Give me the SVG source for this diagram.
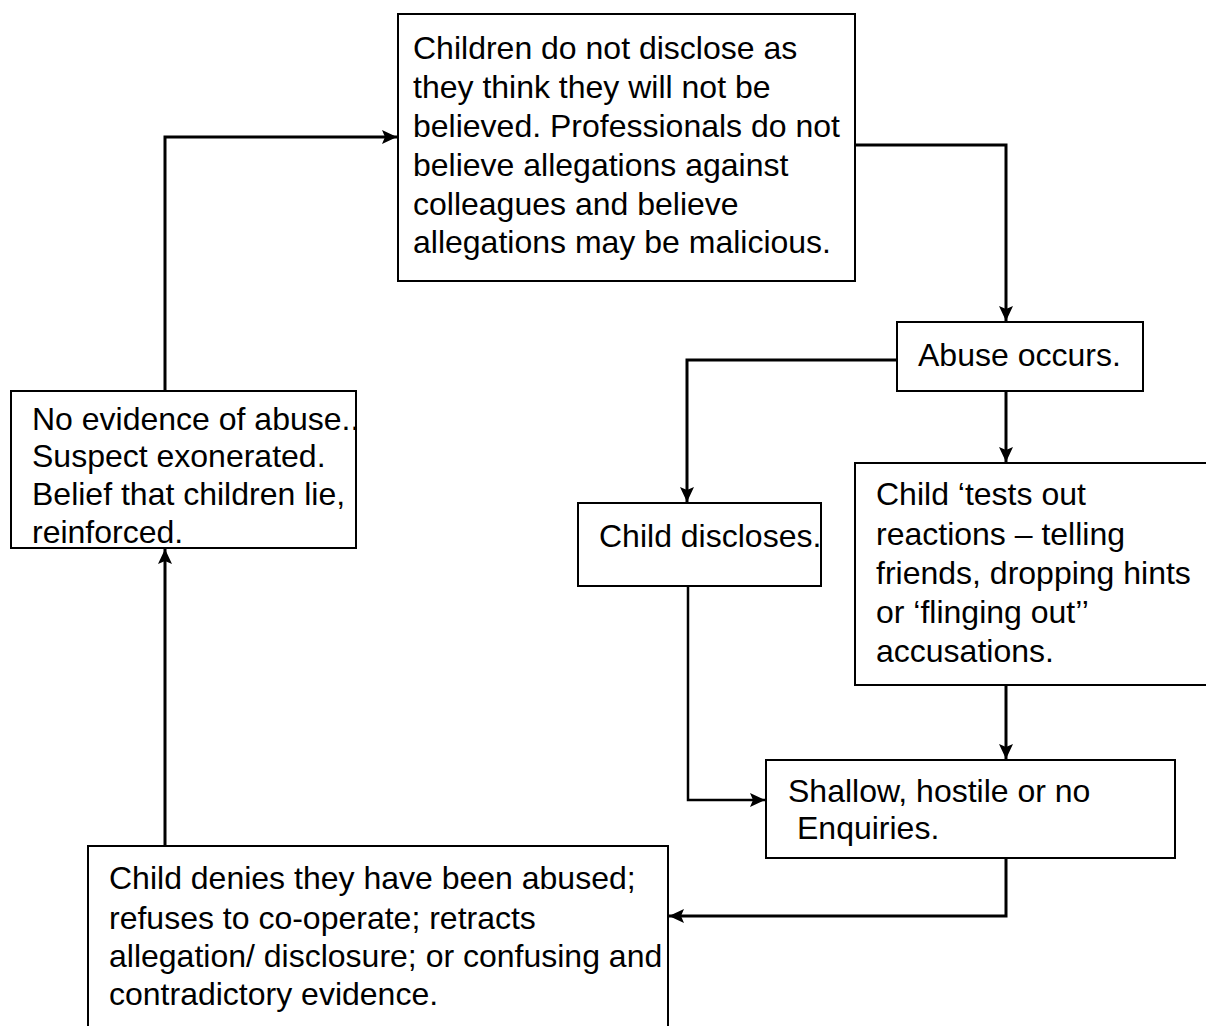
<svg xmlns="http://www.w3.org/2000/svg" width="1206" height="1026" viewBox="0 0 1206 1026">
<style>
.box{fill:#fff;stroke:#000;stroke-width:2}
.t{font-family:"Liberation Sans",Arial,sans-serif;font-size:32px;fill:#000}
.c{fill:none;stroke:#000;stroke-width:3}
</style>
<defs>
<marker id="ah" markerUnits="userSpaceOnUse" markerWidth="16" markerHeight="14" refX="15" refY="7" orient="auto">
<path d="M0,0 L15,7 L0,14 L3,7 z" fill="#000"/>
</marker>
</defs>
<rect width="1206" height="1026" fill="#fff"/>
<g id="connectors">
<path class="c" d="M855,145 H1006 V321" marker-end="url(#ah)"/>
<path class="c" d="M897,360 H687 V502" marker-end="url(#ah)"/>
<path class="c" d="M1006,392 V462" marker-end="url(#ah)"/>
<path class="c" d="M1006,685 V759" marker-end="url(#ah)"/>
<path class="c" d="M688,586 V800 H765" marker-end="url(#ah)" style="stroke-width:2.5"/>
<path class="c" d="M1006,858 V916 H669" marker-end="url(#ah)"/>
<path class="c" d="M165,846 V549" marker-end="url(#ah)"/>
<path class="c" d="M165,391 V137 H397" marker-end="url(#ah)"/>
</g>
<g id="n-top">
<rect class="box" x="398" y="14" width="457" height="267"/>
<text class="t" x="413" y="59">Children do not disclose as</text>
<text class="t" x="413" y="98">they think they will not be</text>
<text class="t" x="413" y="137">believed. Professionals do not</text>
<text class="t" x="413" y="176">believe allegations against</text>
<text class="t" x="413" y="215">colleagues and believe</text>
<text class="t" x="413" y="253">allegations may be malicious.</text>
</g>
<g id="n-abuse">
<rect class="box" x="897" y="322" width="246" height="69"/>
<text class="t" x="918" y="366">Abuse occurs.</text>
</g>
<g id="n-discloses">
<rect class="box" x="578" y="503" width="243" height="83"/>
<text class="t" x="599" y="547">Child discloses.</text>
</g>
<g id="n-tests">
<rect class="box" x="855" y="463" width="360" height="222"/>
<text class="t" x="876" y="505">Child ‘tests out</text>
<text class="t" x="876" y="545">reactions – telling</text>
<text class="t" x="876" y="584">friends, dropping hints</text>
<text class="t" x="876" y="623">or ‘flinging out’’</text>
<text class="t" x="876" y="662">accusations.</text>
</g>
<g id="n-shallow">
<rect class="box" x="766" y="760" width="409" height="98"/>
<text class="t" x="788" y="802">Shallow, hostile or no</text>
<text class="t" x="797" y="839">Enquiries.</text>
</g>
<g id="n-denies">
<rect class="box" x="88" y="846" width="580" height="190"/>
<text class="t" x="109" y="889">Child denies they have been abused;</text>
<text class="t" x="109" y="929">refuses to co-operate; retracts</text>
<text class="t" x="109" y="967">allegation/ disclosure; or confusing and</text>
<text class="t" x="109" y="1005">contradictory evidence.</text>
</g>
<g id="n-noevidence">
<rect class="box" x="11" y="391" width="345" height="157"/>
<text class="t" x="32" y="430">No evidence of abuse..</text>
<text class="t" x="32" y="467">Suspect exonerated.</text>
<text class="t" x="32" y="505">Belief that children lie,</text>
<text class="t" x="32" y="543">reinforced.</text>
</g>
</svg>
